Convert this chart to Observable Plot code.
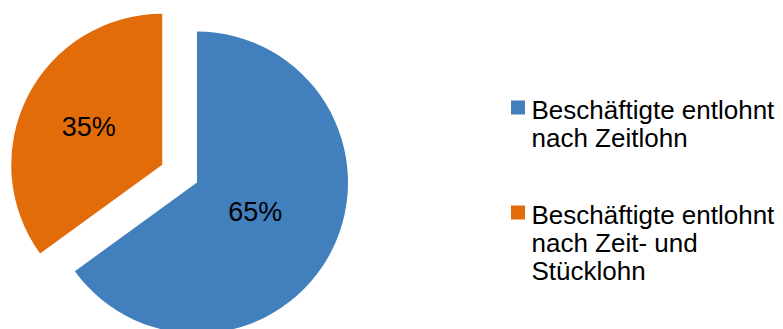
<!DOCTYPE html>
<html>
<head>
<meta charset="utf-8">
<script src="https://cdn.jsdelivr.net/npm/d3@7"></script>
<script src="https://cdn.jsdelivr.net/npm/@observablehq/plot@0.6"></script>
<style>
  html, body { margin: 0; padding: 0; background: #fff; }
  #chart svg { display: block; }
</style>
</head>
<body>
<div id="chart"></div>
<script>
// ---- data ----
const categories = ["Beschäftigte entlohnt nach Zeitlohn", "Beschäftigte entlohnt nach Zeit- und Stücklohn"];
const values = [65, 35];
const valueLabels = ["65%", "35%"];
const legendLabels = ["Beschäftigte entlohnt\nnach Zeitlohn", "Beschäftigte entlohnt\nnach Zeit- und\nStücklohn"];
const colors = ["#417FBD", "#E36C0A"];

// ---- layout ----
const W = 783, H = 329;
const cx = 197, cy = 182.5, R = 151;
const explode = [0, 39];
const labelRadius = [0.43, 0.55];
const font = "'Liberation Sans', Arial, sans-serif";

const arcs = d3.pie().sort(null).value(d => d)(values);
const rows = arcs.map((a, i) => {
  const mid = (a.startAngle + a.endAngle) / 2;
  const ox = explode[i] * Math.sin(mid), oy = -explode[i] * Math.cos(mid);
  const lr = labelRadius[i] * R;
  return {
    category: categories[i], value: values[i], label: valueLabels[i], color: colors[i],
    arc: a, ox, oy,
    lx: cx + ox + lr * Math.sin(mid), ly: cy + oy - lr * Math.cos(mid)
  };
});

const legendX = 511, legendText = 531, legendY = [100.5, 205.5], sq = 14;
const legend = rows.map((r, i) => ({
  x1: legendX, x2: legendX + sq, y1: legendY[i], y2: legendY[i] + sq,
  tx: legendText, ty: legendY[i] - 2.5, text: legendLabels[i], color: r.color
}));

function pieMark(index, scales) {
  const g = d3.create("svg:g");
  const arcGen = d3.arc().innerRadius(0).outerRadius(R);
  for (const r of rows) {
    g.append("path")
      .attr("d", arcGen(r.arc))
      .attr("fill", r.color)
      .attr("transform", `translate(${scales.x(cx + r.ox)},${scales.y(cy + r.oy)})`);
  }
  return g.node();
}

const chart = Plot.plot({
  width: W, height: H,
  margin: 0,
  x: {domain: [0, W], range: [0, W], axis: null},
  y: {domain: [0, H], range: [0, H], axis: null},
  style: {fontFamily: font, background: "#fff"},
  marks: [
    pieMark,
    Plot.text(rows, {x: "lx", y: "ly", text: "label", fontSize: 27, fill: "#000", textAnchor: "middle", fontFamily: font}),
    Plot.rect(legend, {x1: "x1", x2: "x2", y1: "y1", y2: "y2", fill: "color"}),
    Plot.text(legend, {x: "tx", y: "ty", text: "text", fontSize: 26, lineHeight: 1.09, lineAnchor: "top", textAnchor: "start", fill: "#000", fontFamily: font})
  ]
});
document.getElementById("chart").appendChild(chart);
</script>
</body>
</html>
